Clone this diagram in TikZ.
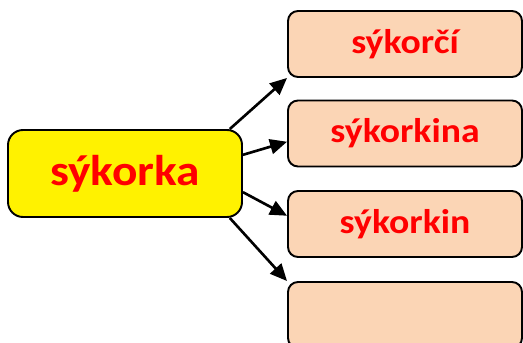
\documentclass[tikz,border=0pt]{standalone}
\usepackage{fontspec}
\setmainfont{Carlito}[FakeStretch=1.1]
\usetikzlibrary{arrows.meta}
\definecolor{peach}{HTML}{FBD5B5}
\begin{document}
\begin{tikzpicture}[
        mainbox/.style={draw, line width=1.1pt, rounded corners=0.3cm, fill=yellow, text=red,
            font=\fontsize{24.5}{28}\selectfont\bfseries, minimum width=4.68cm, minimum height=1.74cm},
        formbox/.style={draw, line width=1.1pt, rounded corners=0.2cm, fill=peach, text=red,
            font=\fontsize{19.5}{22}\selectfont\bfseries, minimum width=4.68cm, minimum height=1.32cm},
        link/.style={-{Triangle[length=0.34cm,width=0.3cm]}, line width=1.5pt}
    ]
        \useasboundingbox (0,0) rectangle (10.46,6.84);
        \node[mainbox] (sykorka) at (2.5,3.37) {sýkorka};
        \node[formbox] (sykorci) at (8.1,5.96) {sýkorčí};
        \node[formbox] (sykorkina) at (8.1,4.17) {sýkorkina};
        \node[formbox] (sykorkin) at (8.1,2.36) {sýkorkin};
        \node[formbox] (blank) at (8.1,0.54) {};
        \draw[link] (sykorka.23) -- (sykorci.south west);
        \draw[link] (sykorka.9) -- (sykorkina.184);
        \draw[link] (sykorka.-9) -- (sykorkin.176);
        \draw[link] (sykorka.-23) -- (blank.north west);
    \end{tikzpicture}
\end{document}
